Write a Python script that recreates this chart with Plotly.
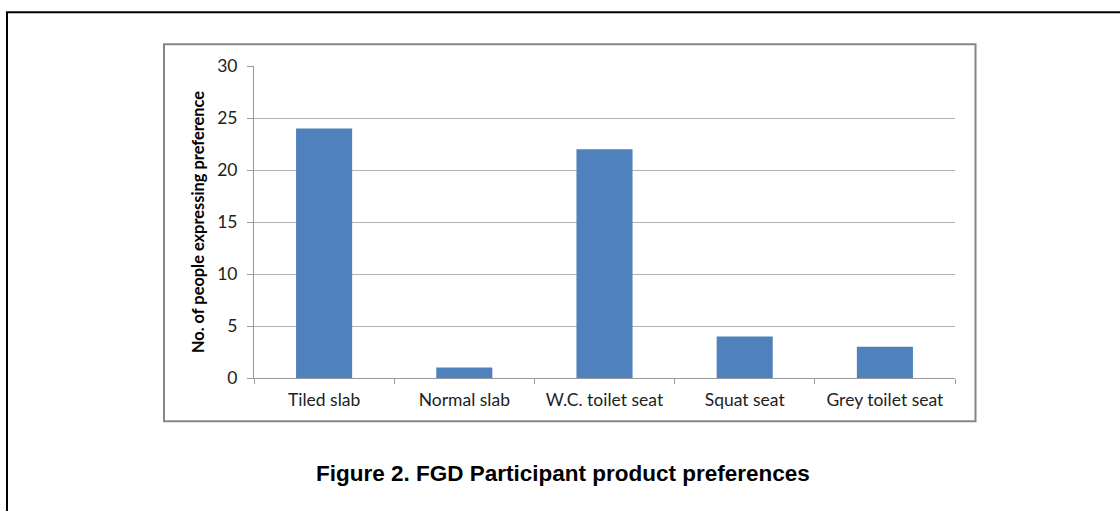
import plotly.graph_objects as go

categories = ["Tiled slab", "Normal slab", "W.C. toilet seat", "Squat seat", "Grey toilet seat"]
values = [24, 1, 22, 4, 3]
y_ticks = [0, 5, 10, 15, 20, 25, 30]
y_title = "No. of people expressing preference"
caption = "Figure 2. FGD Participant product preferences"

W, H = 1120, 511
L, R, T, B = 254, 955, 65.7, 377.7

def px(x):
    return (x - L) / (R - L)

def py(y):
    return (B - y) / (B - T)

fig = go.Figure(go.Bar(x=categories, y=values, marker=dict(color="#4F81BD", line=dict(width=0)), width=0.4))

fig.update_layout(
    width=W, height=H,
    margin=dict(l=L, r=W - R, t=T, b=H - B, pad=0),
    paper_bgcolor="white", plot_bgcolor="white",
    showlegend=False,
    font=dict(family="Lato, Carlito, sans-serif", size=17.5, color="#222"),
)
fig.update_yaxes(
    range=[0, 30], tickvals=y_ticks, showgrid=True, gridcolor="#B3B3B3", gridwidth=1,
    showline=True, linecolor="#9A9A9A", linewidth=1, ticks="outside", ticklen=6, tickcolor="#9A9A9A",
    ticklabelstandoff=6, zeroline=False,
    title=dict(text=y_title, font=dict(family="Lato, Carlito, sans-serif", size=16.4, weight="bold", color="#000"), standoff=8),
)
fig.update_xaxes(
    showline=True, linecolor="#9A9A9A", linewidth=1, ticks="outside", ticklen=5, tickcolor="#9A9A9A",
    tickson="boundaries", ticklabelstandoff=6, showgrid=False,
)

shapes = [
    # outer frame: left and top
    dict(type="line", xref="paper", yref="paper", x0=px(7), x1=px(7), y0=py(12), y1=py(515), line=dict(color="black", width=2)),
    dict(type="line", xref="paper", yref="paper", x0=px(6), x1=px(1125), y0=py(12), y1=py(12), line=dict(color="black", width=2)),
    # inner chart box
    dict(type="rect", xref="paper", yref="paper", x0=px(164), x1=px(975.5), y0=py(421), y1=py(44), line=dict(color="#868686", width=2), fillcolor="rgba(0,0,0,0)", layer="below"),
]
fig.update_layout(shapes=shapes)

fig.add_annotation(
    text=caption, xref="paper", yref="paper", x=px(563), y=py(473), showarrow=False,
    xanchor="center", yanchor="middle",
    font=dict(family="Liberation Sans, Arial, sans-serif", size=22.5, weight="bold", color="#000"),
)

fig.write_html("out.html", config={"displayModeBar": False}, post_script="document.body.style.margin='0px';")
